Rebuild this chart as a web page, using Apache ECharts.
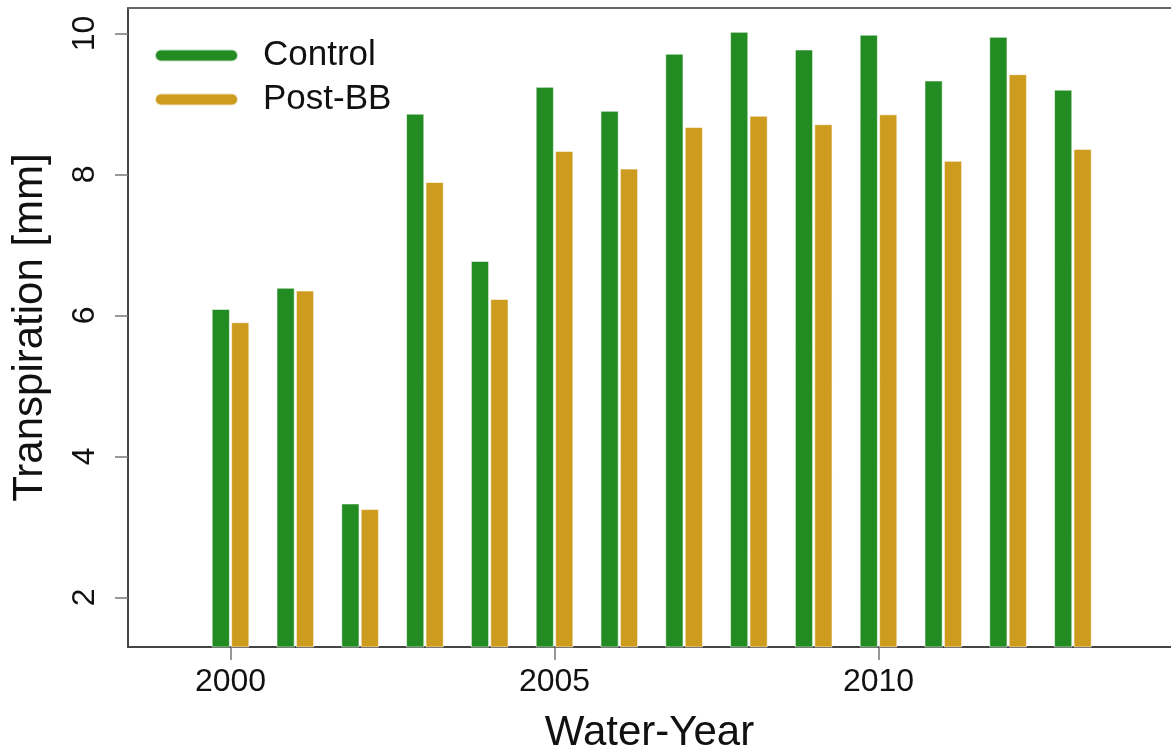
<!DOCTYPE html>
<html>
<head>
<meta charset="utf-8">
<script src="https://cdn.jsdelivr.net/npm/echarts@6/dist/echarts.min.js"></script>
<style>
  html, body { margin: 0; padding: 0; background: #fff; }
  #main { width: 1171px; height: 750px; }
</style>
</head>
<body>
<div id="main"></div>
<script>
// data
var years = [2000, 2001, 2002, 2003, 2004, 2005, 2006, 2007, 2008, 2009, 2010, 2011, 2012, 2013];
var control = [6.09, 6.39, 3.33, 8.86, 6.77, 9.24, 8.90, 9.71, 10.02, 9.77, 9.98, 9.33, 9.95, 9.20];
var postBB = [5.90, 6.35, 3.25, 7.89, 6.23, 8.33, 8.08, 8.67, 8.83, 8.71, 8.85, 8.19, 9.42, 8.36];
var xTicks = [2000, 2005, 2010];
var yTicks = [2, 4, 6, 8, 10];

var font = "'Liberation Sans', Arial, sans-serif";
var green = '#228B22';
var gold = '#CD9B1D';
var xMin = 1998.418, xMax = 2014.514;

// capsule shaped legend key (thick line with round ends)
var capsule = 'path://M6,0 L77,0 A6,6 0 0 1 77,12 L6,12 A6,6 0 0 1 6,0 Z';

var chart = echarts.init(document.getElementById('main'));

var option = {
    backgroundColor: '#fff',
    animation: false,
    grid: {
        left: 128,
        top: 8,
        right: 0,
        bottom: 103,
        containLabel: false,
        outerBoundsMode: 'none'
    },
    legend: {
        left: 154,
        top: 38,
        padding: 0,
        orient: 'vertical',
        itemWidth: 83,
        itemHeight: 12,
        itemGap: 9,
        icon: capsule,
        textStyle: {
            fontFamily: font,
            fontSize: 35,
            color: '#111',
            lineHeight: 35,
            padding: [0, 0, 0, 20]
        },
        data: ['Control', 'Post-BB']
    },
    xAxis: [
        {
            type: 'value',
            min: xMin,
            max: xMax,
            name: 'Water-Year',
            nameLocation: 'middle',
            nameGap: 65,
            nameTextStyle: { fontFamily: font, fontSize: 42, color: '#111' },
            splitLine: { show: false },
            axisLine: { show: true, onZero: false, lineStyle: { color: '#444', width: 2 } },
            axisTick: {
                show: true,
                length: 13,
                customValues: xTicks,
                lineStyle: { color: '#777', width: 1.5 }
            },
            axisLabel: {
                customValues: xTicks,
                formatter: function (v) { return String(v); },
                margin: 19,
                fontFamily: font,
                fontSize: 32,
                color: '#111'
            }
        },
        {
            // top edge of the box only
            type: 'value',
            position: 'top',
            min: xMin,
            max: xMax,
            splitLine: { show: false },
            axisLine: { show: true, onZero: false, lineStyle: { color: '#666', width: 2 } },
            axisTick: { show: false },
            axisLabel: { show: false }
        }
    ],
    yAxis: {
        type: 'value',
        min: 1.295,
        max: 10.36,
        name: 'Transpiration [mm]',
        nameLocation: 'middle',
        nameRotate: 90,
        nameGap: 77,
        nameTextStyle: { fontFamily: font, fontSize: 42, color: '#111' },
        splitLine: { show: false },
        axisLine: { show: true, onZero: false, lineStyle: { color: '#444', width: 2 } },
        axisTick: {
            show: true,
            length: 13,
            customValues: yTicks,
            lineStyle: { color: '#777', width: 1.5 }
        },
        axisLabel: {
            customValues: yTicks,
            rotate: 90,
            margin: 27,
            fontFamily: font,
            fontSize: 32,
            color: '#111'
        }
    },
    series: [
        {
            name: 'Control',
            type: 'bar',
            barWidth: 18,
            barGap: '8%',
            clip: true,
            itemStyle: { color: green, borderColor: 'rgba(255,255,255,0.7)', borderWidth: 0.8 },
            data: years.map(function (y, i) { return [y, control[i]]; })
        },
        {
            name: 'Post-BB',
            type: 'bar',
            barWidth: 18,
            barGap: '8%',
            clip: true,
            itemStyle: { color: gold, borderColor: 'rgba(255,255,255,0.7)', borderWidth: 0.8 },
            data: years.map(function (y, i) { return [y, postBB[i]]; })
        }
    ]
};

chart.setOption(option);
</script>
</body>
</html>
